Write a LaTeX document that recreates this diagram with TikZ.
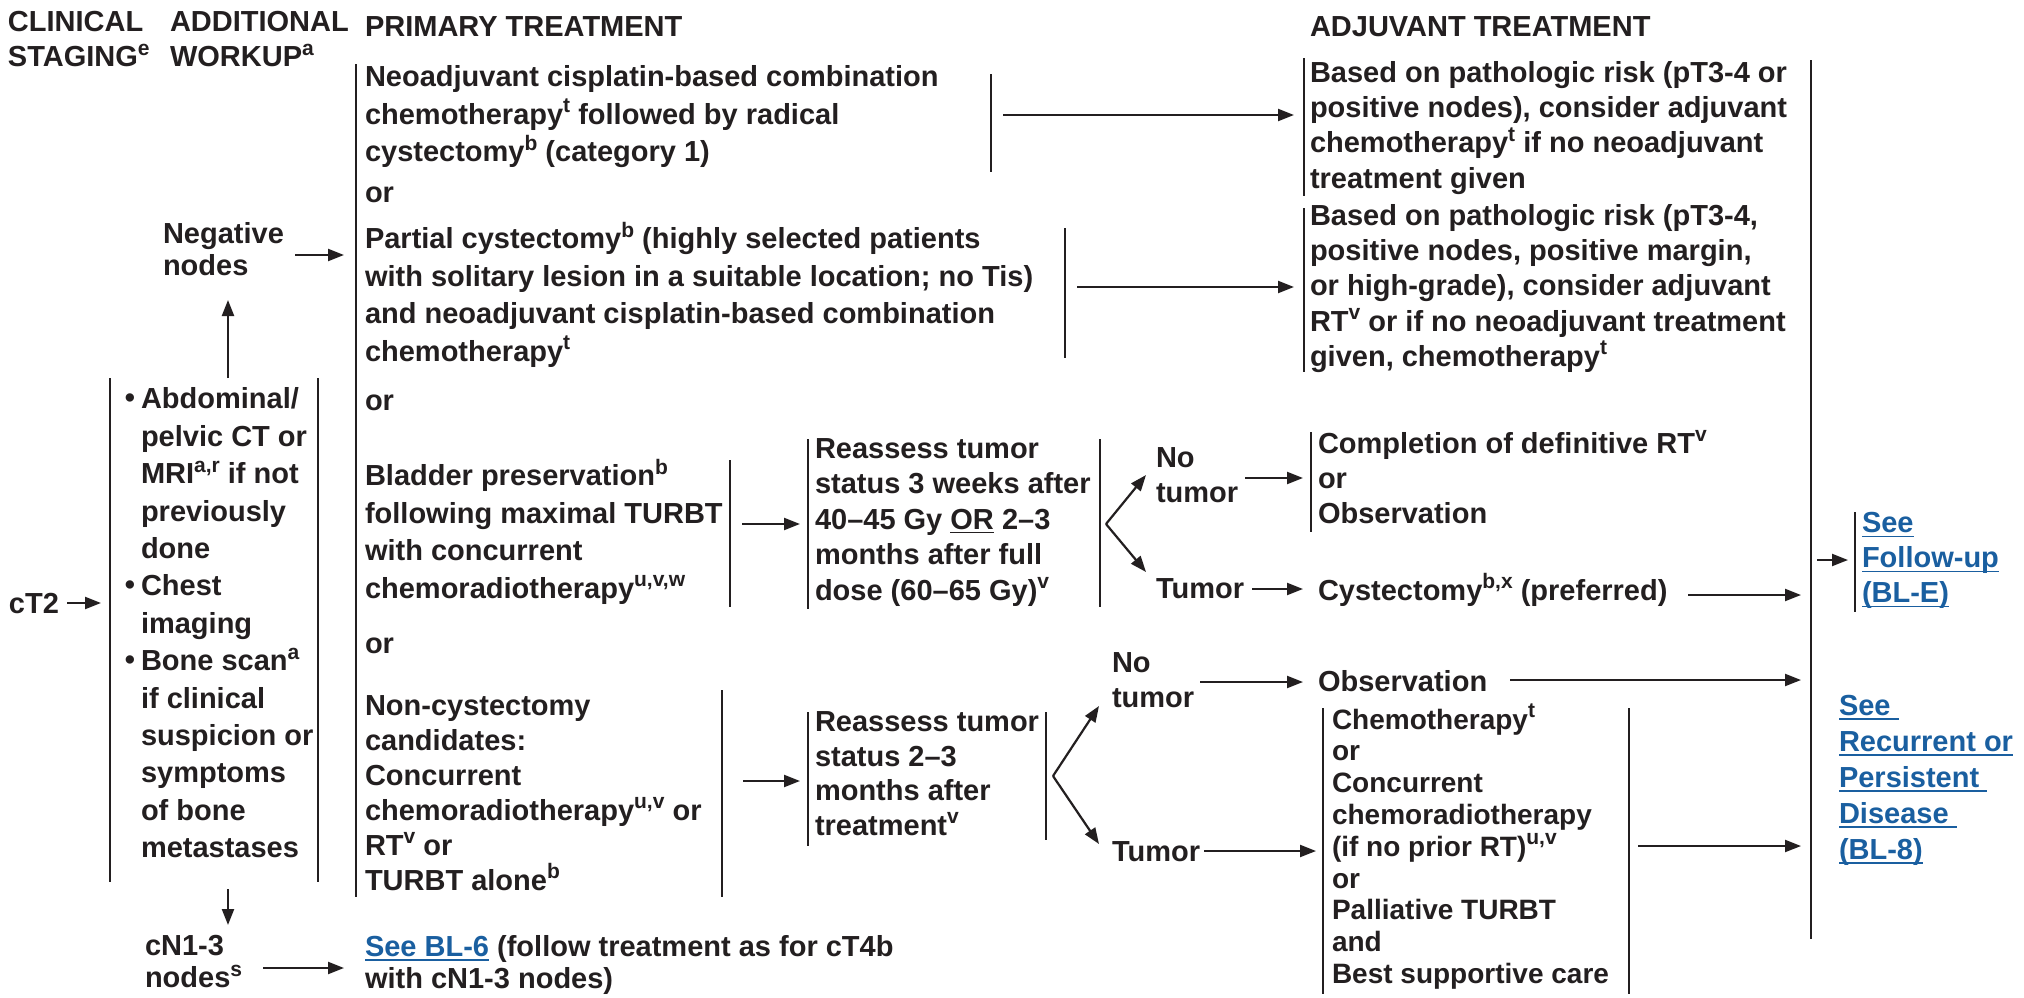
\documentclass[tikz,border=0pt]{standalone}
\usepackage{fontspec}
\setmainfont{Liberation Sans}
\usetikzlibrary{arrows.meta}
\definecolor{ink}{HTML}{231F20}
\definecolor{lnkc}{HTML}{1A5FA0}
\newcommand\fsz[2]{\fontsize{#1}{#2}\selectfont\bfseries}
\newcommand\sps[1]{\raisebox{5.8pt}[0pt][0pt]{\fontsize{10.5pt}{10.5pt}\selectfont #1}}
\newcommand\lnk[1]{{\color{lnkc}\setbox0\hbox{#1}\rlap{\rule[-2.3pt]{\wd0}{0.9pt}}\box0}}
\newcommand\bul{\llap{\raisebox{0.5pt}{•}\hspace{3pt}}}
\tikzset{
  txt/.style={anchor=north west, inner sep=0pt, outer sep=0pt, align=left, text=ink,
    font=\fsz{14.5pt}{#1pt}, yshift=0.7*#1pt, execute at begin node=\strut},
  txt/.default=17.5,
  txs/.style={anchor=north west, inner sep=0pt, outer sep=0pt, align=left, text=ink,
    font=\fsz{14pt}{#1pt}, yshift=0.7*#1pt, execute at begin node=\strut},
  txs/.default=15.9,
  bar/.style={draw=ink, line width=1.1pt},
  arr/.style={draw=ink, line width=1.1pt, -{Triangle[length=8pt,width=6pt]}},
}
\begin{document}
\begin{tikzpicture}[x=0.5pt,y=-0.5pt]
\useasboundingbox (0,0) rectangle (2024,997);
\fill[white] (0,0) rectangle (2024,997);

% headers
\node[txt] (hA) at (8,36) {CLINICAL\\STAGING\sps{e}};
\node[txt] (hB) at (170,36) {ADDITIONAL\\WORKUP\sps{a}};
\node[txt] (hC) at (365,36) {PRIMARY TREATMENT};
\node[txt] (hD) at (1310,36) {ADJUVANT TREATMENT};

% left column
\node[txt] (ct2) at (9,613) {cT2};
\coordinate (ct2a) at (67,603); \coordinate (ct2b) at (101,603);
\draw[arr] (ct2a) -- (ct2b);
\draw[bar] (110,378) -- (110,882);
\draw[bar] (318,378) -- (318,882);
\node[txt=18.7] (work) at (141,414) {\bul Abdominal/\\pelvic CT or\\MRI\sps{a,r} if not\\previously\\done\\\bul Chest\\imaging\\\bul Bone scan\sps{a}\\if clinical\\suspicion or\\symptoms\\of bone\\metastases};
\node[txt=16] (neg) at (163,245) {Negative\\nodes};
\coordinate (wtop) at (228,378); \coordinate (negb) at (228,300);
\draw[arr] (wtop) -- (negb);
\coordinate (nega) at (295,255); \coordinate (negc) at (344,255);
\draw[arr] (nega) -- (negc);
\coordinate (wbot) at (228,889); \coordinate (cnt) at (228,925);
\draw[arr] (wbot) -- (cnt);
\node[txt=16] (cn) at (145,958) {cN1-3\\nodes\sps{s}};
\coordinate (cna) at (263,968); \coordinate (cnb) at (344,968);
\draw[arr] (cna) -- (cnb);
\node[txt=16] (bl6) at (365,958) {\lnk{See BL-6} (follow treatment as for cT4b\\with cN1-3 nodes)};

% primary column
\draw[bar] (356,64) -- (356,897);
\node[txt=18.75] (p1) at (365,92) {Neoadjuvant cisplatin-based combination\\chemotherapy\sps{t} followed by radical\\cystectomy\sps{b} (category 1)};
\draw[bar] (991,74) -- (991,172);
\node[txt] (or1) at (365,202) {or};
\node[txt=18.75] (p2) at (365,254) {Partial cystectomy\sps{b} (highly selected patients\\with solitary lesion in a suitable location; no Tis)\\and neoadjuvant cisplatin-based combination\\chemotherapy\sps{t}};
\draw[bar] (1065,228) -- (1065,358);
\node[txt] (or2) at (365,410) {or};
\node[txt=18.75] (p3) at (365,491) {Bladder preservation\sps{b}\\following maximal TURBT\\with concurrent\\chemoradiotherapy\sps{u,v,w}};
\draw[bar] (730,460) -- (730,607);
\node[txt] (or3) at (365,653) {or};
\node[txt] (p4) at (365,720) {Non-cystectomy\\candidates:\\Concurrent\\chemoradiotherapy\sps{u,v} or\\RT\sps{v} or\\TURBT alone\sps{b}};
\draw[bar] (722,690) -- (722,897);

% adjuvant (top)
\coordinate (a1s) at (1003,115); \coordinate (a1e) at (1294,115);
\draw[arr] (a1s) -- (a1e);
\draw[bar] (1304,58) -- (1304,196);
\node[txt=17.65] (adj1) at (1310,86) {Based on pathologic risk (pT3-4 or\\positive nodes), consider adjuvant\\chemotherapy\sps{t} if no neoadjuvant\\treatment given};
\coordinate (a2s) at (1077,287); \coordinate (a2e) at (1294,287);
\draw[arr] (a2s) -- (a2e);
\draw[bar] (1304,208) -- (1304,372);
\node[txt=17.65] (adj2) at (1310,229) {Based on pathologic risk (pT3-4,\\positive nodes, positive margin,\\or high-grade), consider adjuvant\\RT\sps{v} or if no neoadjuvant treatment\\given, chemotherapy\sps{t}};

% bladder preservation branch
\coordinate (b3s) at (742,524); \coordinate (b3e) at (800,524);
\draw[arr] (b3s) -- (b3e);
\draw[bar] (808,439) -- (808,609);
\node[txt=17.75] (re1) at (815,463) {Reassess tumor\\status 3 weeks after\\40–45 Gy \underline{OR} 2–3\\months after full\\dose (60–65 Gy)\sps{v}};
\draw[bar] (1100,439) -- (1100,607);
\coordinate (f1) at (1106,524);
\coordinate (f1u) at (1146,475); \coordinate (f1d) at (1146,572);
\draw[arr] (f1) -- (f1u);
\draw[arr] (f1) -- (f1d);
\node[txt] (nt1) at (1156,472) {No\\tumor};
\node[txt] (tu1) at (1156,598) {Tumor};
\coordinate (n1s) at (1245,478); \coordinate (n1e) at (1303,478);
\draw[arr] (n1s) -- (n1e);
\coordinate (t1s) at (1252,589); \coordinate (t1e) at (1303,589);
\draw[arr] (t1s) -- (t1e);
\draw[bar] (1311,432) -- (1311,532);
\node[txt] (comp) at (1318,457) {Completion of definitive RT\sps{v}\\or\\Observation};
\node[txt] (cyst) at (1318,600) {Cystectomy\sps{b,x} (preferred)};
\coordinate (cys) at (1688,595); \coordinate (cye) at (1801,595);
\draw[arr] (cys) -- (cye);

% non-cystectomy branch
\coordinate (b4s) at (743,781); \coordinate (b4e) at (800,781);
\draw[arr] (b4s) -- (b4e);
\draw[bar] (808,712) -- (808,846);
\node[txt=17.25] (re2) at (815,736) {Reassess tumor\\status 2–3\\months after\\treatment\sps{v}};
\draw[bar] (1046,712) -- (1046,840);
\coordinate (f2) at (1053,776);
\coordinate (f2u) at (1099,706); \coordinate (f2d) at (1099,844);
\draw[arr] (f2) -- (f2u);
\draw[arr] (f2) -- (f2d);
\node[txt] (nt2) at (1112,677) {No\\tumor};
\node[txt] (tu2) at (1112,861) {Tumor};
\coordinate (n2s) at (1200,682); \coordinate (n2e) at (1303,682);
\draw[arr] (n2s) -- (n2e);
\node[txt] (obs) at (1318,691) {Observation};
\coordinate (obs1) at (1510,680); \coordinate (obs2) at (1801,680);
\draw[arr] (obs1) -- (obs2);
\coordinate (t2s) at (1204,851); \coordinate (t2e) at (1316,851);
\draw[arr] (t2s) -- (t2e);
\draw[bar] (1323,708) -- (1323,994);
\draw[bar] (1629,708) -- (1629,994);
\node[txs] (chemo) at (1332,731) {Chemotherapy\sps{t}\\or\\Concurrent\\chemoradiotherapy\\(if no prior RT)\sps{u,v}\\or\\Palliative TURBT\\and\\Best supportive care};
\coordinate (chs) at (1638,846); \coordinate (che) at (1801,846);
\draw[arr] (chs) -- (che);

% right side
\draw[bar] (1811,60) -- (1811,939);
\coordinate (fus) at (1817,560); \coordinate (fue) at (1848,560);
\draw[arr] (fus) -- (fue);
\draw[bar] (1855,512) -- (1855,612);
\node[txt] (fu) at (1862,537) {\lnk{See}\\\lnk{Follow-up}\\\lnk{(BL-E)}};
\node[txt=18] (rec) at (1839,720) {\lnk{See\ }\\\lnk{Recurrent or}\\\lnk{Persistent\ }\\\lnk{Disease\ }\\\lnk{(BL-8)}};
\end{tikzpicture}
\end{document}
